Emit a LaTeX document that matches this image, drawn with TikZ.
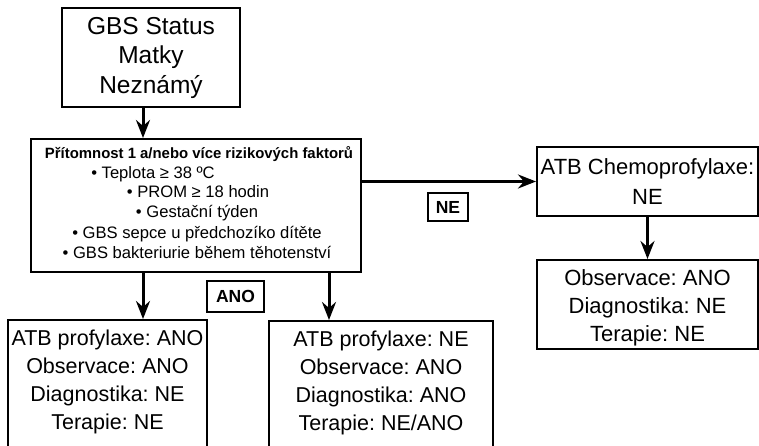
\documentclass[tikz,border=0pt]{standalone}
\usepackage{fontspec}
\setmainfont{Liberation Sans}
\usetikzlibrary{arrows.meta}
\frenchspacing
\begin{document}
\begin{tikzpicture}[x=1pt,y=-1pt,
  box/.style={draw, line width=2pt, rectangle, inner sep=0pt, align=center},
  lbl/.style={draw, line width=2pt, inner sep=0pt, font=\fontsize{17.5}{20}\selectfont\bfseries},
  txt/.style={align=center, inner sep=0pt},
  bul/.style={inner sep=0pt, anchor=base, font=\fontsize{16.6}{20}\selectfont},
  arr/.style={line width=3pt, -{Stealth[length=18pt,width=14pt,inset=6pt]}}]
\useasboundingbox (0,0) rectangle (759,446);
\clip (0,0) rectangle (759,446);

% guide coordinates for arrow x positions
\coordinate (c0) at (143,0);
\coordinate (c1) at (143,0);
\coordinate (c2) at (329,0);

% top box
\node[box, minimum width=178pt, minimum height=99pt,
      font=\fontsize{24.5}{29.5}\selectfont] (top) at (151,57.5)
      {GBS Status\\Matky\\Neznámý};

% risk factors box
\node[box, minimum width=330pt, minimum height=133pt] (risk) at (196,205.5) {};
\node[bul, font=\fontsize{14.9}{18}\selectfont\bfseries] (t0) at (199,158.5) {Přítomnost 1 a/nebo více rizikových faktorů};
\node[bul] (t1) at (153,179) {• Teplota ≥ 38 ºC};
\node[bul] (t2) at (198,198) {• PROM ≥ 18 hodin};
\node[bul] (t3) at (197,218) {• Gestační týden};
\node[bul] (t4) at (197,238) {• GBS sepce u předchozíko dítěte};
\node[bul] (t5) at (197,258) {• GBS bakteriurie během těhotenství};

% right branch
\node[box, minimum width=221pt, minimum height=69pt,
      font=\fontsize{22}{30}\selectfont] (chem) at (647.5,181.5)
      {ATB Chemoprofylaxe:\\NE};
\node[box, minimum width=221pt, minimum height=89pt] (obs) at (647.5,304.5) {};
\node[txt, font=\fontsize{22}{28}\selectfont] (obstxt) at (647.5,308)
      {Observace: ANO\\Diagnostika: NE\\Terapie: NE};

% bottom boxes (cut by the lower edge)
\node[box, minimum width=199pt, minimum height=150pt] (bl) at (107.5,395) {};
\node[txt, font=\fontsize{21.5}{28}\selectfont] (bltxt) at (107.5,382)
      {ATB profylaxe: ANO\\Observace: ANO\\Diagnostika: NE\\Terapie: NE};
\node[box, minimum width=224pt, minimum height=150pt] (bm) at (381,396) {};
\node[txt, font=\fontsize{21.5}{28}\selectfont] (bmtxt) at (381,383)
      {ATB profylaxe: NE\\Observace: ANO\\Diagnostika: ANO\\Terapie: NE/ANO};

% labels
\node[lbl, minimum width=40pt, minimum height=28pt] (ne) at (448,207) {NE};
\node[lbl, minimum width=57pt, minimum height=31pt] (ano) at (235.5,296.5) {ANO};

% connectors
\draw[arr] (top.south -| c0) -- (risk.north -| c0);
\draw[arr] (risk.east |- chem.west) -- (chem.west);
\draw[arr] (chem.south) -- (obs.north);
\draw[arr] (risk.south -| c1) -- (bl.north -| c1);
\draw[arr] (risk.south -| c2) -- (bm.north -| c2);
\end{tikzpicture}
\end{document}
